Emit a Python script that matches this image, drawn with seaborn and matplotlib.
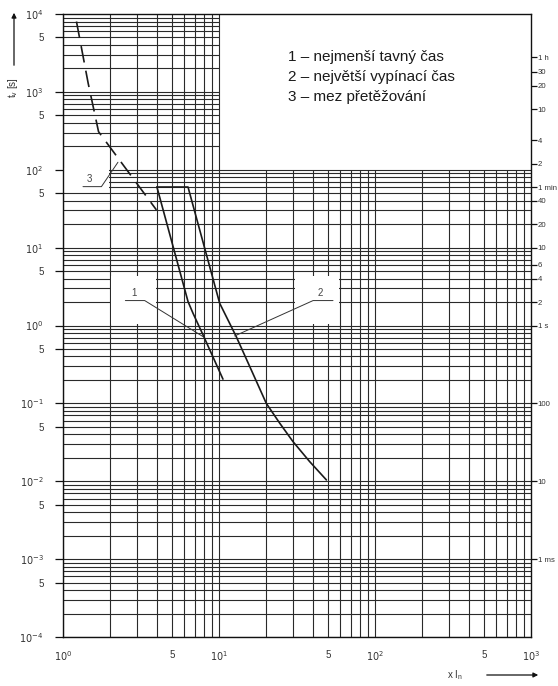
import numpy as np
import pandas as pd
import matplotlib
matplotlib.use("Agg")
import matplotlib.pyplot as plt
from matplotlib.patches import Rectangle
import seaborn as sns

sns.set_style("white")
plt.rcParams['font.family'] = ['Liberation Sans', 'DejaVu Sans']
plt.rcParams['lines.scale_dashes'] = False

# krivka 1 - nejmensi tavny cas
curve1_x = [4.0, 6.33, 6.81, 7.9, 10.6]
curve1_y = [60, 2.03, 1.44, 0.757, 0.205]
# krivka 2 - nejvetsi vypinaci cas (vcetne plata)
curve2_x = [4.0, 6.33, 10.1, 12.9, 16.1, 20.1, 24.5, 29.8, 38.1, 48.8]
curve2_y = [60, 60, 1.93, 0.72, 0.269, 0.1, 0.0557, 0.0323, 0.0179, 0.0104]
# krivka 3 - mez pretezovani (carkovane)
curve3_x = [1.22, 1.45, 1.69, 3.97]
curve3_y = [8000, 1290, 308, 30.5]

# odkazove cary k cislum
leader1_x = [2.51, 3.34, 7.9]
leader1_y = [2.09, 2.09, 0.72]
leader2_x = [53.8, 40.1, 12.6]
leader2_y = [2.09, 2.09, 0.734]
leader3_x = [1.343, 1.763, 2.25]
leader3_y = [60.7, 60.7, 124.8]

legend_lines = ["1 – nejmenší tavný čas",
                "2 – největší vypínací čas",
                "3 – mez přetěžování"]

# prava osa - casove znacky
right_ticks = [2800, 1800, 1200, 600, 240, 120, 60, 40, 20, 10, 6, 4, 2, 1, 0.1, 0.01, 0.001]
right_labels = ["1 h", "30", "20", "10", "4", "2", "1 min", "40", "20", "10", "6", "4", "2", "1 s",
                "100", "10", "1 ms"]

W, H = 558, 686
fig = plt.figure(figsize=(W / 100, H / 100), dpi=100)
ax = fig.add_axes([63 / W, 1 - 637 / H, (531 - 63) / W, (637 - 14) / H])
ax.set_xscale('log')
ax.set_yscale('log')
ax.set_xlim(1, 1000)
ax.set_ylim(1e-4, 1e4)

gc = '#2a2a2a'
glw = 0.8
# svisle cary mrizky
for k in range(0, 3):
    for m in range(1, 10):
        x = m * 10 ** k
        if x <= 10:
            ax.vlines(x, 1e-4, 1e4, color=gc, lw=glw, zorder=1)
        else:
            ax.vlines(x, 1e-4, 100, color=gc, lw=glw, zorder=1)
# vodorovne cary mrizky
for k in range(-4, 4):
    for m in range(1, 10):
        y = m * 10.0 ** k
        if y <= 100:
            ax.hlines(y, 1, 1000, color=gc, lw=glw, zorder=1)
        else:
            ax.hlines(y, 1, 10, color=gc, lw=glw, zorder=1)

# bile ramecky pod popisky
for (x0, x1, y0, y1) in [(1.0, 1.98, 52, 104), (2.04, 3.93, 1.04, 4.3), (30.6, 58.5, 1.04, 4.3)]:
    ax.add_patch(Rectangle((x0, y0), x1 - x0, y1 - y0, facecolor='white', edgecolor='none', zorder=2))

sns.lineplot(x=curve1_x, y=curve1_y, sort=False, estimator=None, color='#1a1a1a', lw=1.2, ax=ax, zorder=4)
sns.lineplot(x=curve2_x, y=curve2_y, sort=False, estimator=None, color='#1a1a1a', lw=1.2, ax=ax, zorder=4)
l3 = sns.lineplot(x=curve3_x, y=curve3_y, sort=False, estimator=None, color='#1a1a1a', lw=1.2, ax=ax, zorder=4)
l3.lines[-1].set_dashes((12, 6))

for lx, ly in [(leader1_x, leader1_y), (leader2_x, leader2_y), (leader3_x, leader3_y)]:
    sns.lineplot(x=lx, y=ly, sort=False, estimator=None, color='#333333', lw=0.7, ax=ax, zorder=4)

ax.text(2.84, 2.6, "1", fontsize=7, color='#444444', ha='center', va='center', zorder=5)
ax.text(44.7, 2.6, "2", fontsize=7, color='#444444', ha='center', va='center', zorder=5)
ax.text(1.483, 77, "3", fontsize=7, color='#444444', ha='center', va='center', zorder=5)

for s in ax.spines.values():
    s.set_color('#111111')
    s.set_linewidth(1.0)
    s.set_zorder(6)

# leva osa
ax.set_yticks([10.0 ** k for k in range(-4, 5)])
ax.set_yticklabels([r'$10^{%d}$' % k for k in range(-4, 5)])
ax.set_yticks([5 * 10.0 ** k for k in range(-4, 4)], minor=True)
ax.set_yticklabels(['5'] * 8, minor=True)
# spodni osa
ax.set_xticks([1, 10, 100, 1000])
ax.set_xticklabels([r'$10^{%d}$' % k for k in range(0, 4)])
ax.set_xticks([5, 50, 500], minor=True)
ax.set_xticklabels(['5'] * 3, minor=True)
ax.tick_params(axis='both', which='both', direction='out', length=6, width=0.9,
               color='#111111', labelsize=7, labelcolor='#333333')
ax.tick_params(axis='y', which='both', pad=8)
ax.tick_params(axis='x', which='both', pad=3)

# prava osa s casy
ax2 = ax.twinx()
ax2.set_yscale('log')
ax2.set_ylim(1e-4, 1e4)
ax2.set_yticks(right_ticks)
ax2.set_yticklabels(right_labels)
ax2.yaxis.set_minor_locator(matplotlib.ticker.NullLocator())
ax2.tick_params(axis='y', which='both', direction='out', length=4.5, width=0.9, color='#111111',
                labelsize=5.6, labelcolor='#333333', pad=0.3)
for s in ax2.spines.values():
    s.set_visible(False)

# popisky os se sipkami
fig.text(13 / W, 1 - 88 / H, r'$\mathregular{t_v}$ [s]', rotation=90, fontsize=7, color='#333333',
         ha='center', va='center')
fig.add_artist(matplotlib.patches.FancyArrowPatch((14 / W, 1 - 68 / H), (14 / W, 1 - 10 / H),
               transform=fig.transFigure, arrowstyle='-|>', mutation_scale=7, color='#111111', lw=0.9))
fig.text(455 / W, 1 - 675 / H, r'x I$_\mathregular{n}$', fontsize=7, color='#333333', ha='center', va='center')
fig.add_artist(matplotlib.patches.FancyArrowPatch((484 / W, 1 - 675 / H), (541 / W, 1 - 675 / H),
               transform=fig.transFigure, arrowstyle='-|>', mutation_scale=7, color='#111111', lw=0.9))

# legenda
for i, t in enumerate(legend_lines):
    fig.text(288 / W, 1 - (57 + 20 * i) / H, t, fontsize=11,
             family=['Liberation Sans', 'DejaVu Sans'], color='#1a1a1a', ha='left', va='center')

fig.savefig('out.png', dpi=100, facecolor='white')
